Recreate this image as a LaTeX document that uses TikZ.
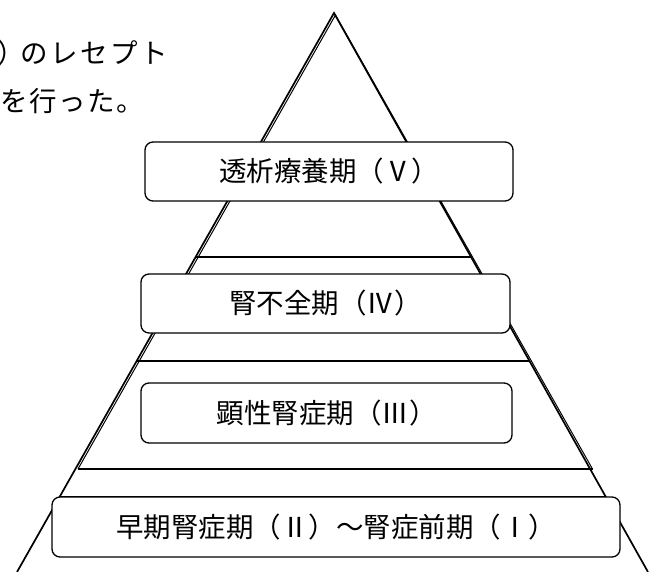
\documentclass[tikz,border=0pt]{standalone}
\usepackage{fontspec}
\usetikzlibrary{calc}
\newfontfamily\jpfont{Noto Sans CJK JP}
\newcommand\lsgap{\kern2.5pt}
\newcommand\lsgapb{\kern1.5pt}
\begin{document}
\begin{tikzpicture}[x=1pt,y=-1pt,
  stagebox/.style={draw, line width=1.3pt, rounded corners=8pt, fill=white, inner sep=0pt,
    font=\jpfont\fontsize{27.5}{30}\selectfont},
  bandline/.style={line width=1.2pt},
  edgeline/.style={line width=1.7pt, line join=miter},
  bodytext/.style={inner sep=0pt, anchor=base west, font=\jpfont\fontsize{27.5}{30}\selectfont}]
\useasboundingbox (0,0) rectangle (661,572);
% triangle
\coordinate (apex) at (334,13);
\coordinate (bl) at (17,572);
\coordinate (br) at (648,572);
\coordinate (apex2) at (335.5,15);
\coordinate (sbl) at (78,469);
\coordinate (sbr) at (592.5,469);
\draw[edgeline] (bl) -- (apex) -- (br);
\draw[line width=1pt] (sbl) -- (apex2) -- (sbr);
% band lines
\coordinate (l1a) at ($(apex)!0.4365!(bl)$);
\coordinate (l1b) at ($(apex)!0.4365!(br)$);
\coordinate (l2a) at ($(apex)!0.6225!(bl)$);
\coordinate (l2b) at ($(apex)!0.6225!(br)$);
\coordinate (l4a) at ($(apex)!0.8658!(bl)$);
\coordinate (l4b) at ($(apex)!0.8658!(br)$);
\draw[bandline] (l1a) -- (l1b);
\draw[bandline] (l2a) -- (l2b);
\draw[bandline] (sbl) -- (sbr);
\draw[bandline] (l4a) -- (l4b);
% boxes
\node[stagebox, minimum width=368pt, minimum height=59pt] (s5) at (329,171.5) {透析療養期（Ⅴ）};
\node[stagebox, minimum width=369pt, minimum height=59pt] (s4) at (325.5,303.5) {腎不全期（Ⅳ）};
\node[stagebox, minimum width=371pt, minimum height=60pt] (s3) at (326.5,413) {顕性腎症期（Ⅲ）};
\node[stagebox, minimum width=568pt, minimum height=60pt] (s1) at (336,527) {早期腎症期（Ⅱ）～腎症前期（Ⅰ）};
% body text fragment
\node[bodytext] (t1) at (-3,64) {）\kern-4.5pt の\lsgap レ\lsgap セ\lsgap プ\lsgap ト};
\node[bodytext] (t2) at (0,112) {を\lsgapb 行\lsgapb っ\lsgapb た\lsgapb 。};
\end{tikzpicture}
\end{document}
